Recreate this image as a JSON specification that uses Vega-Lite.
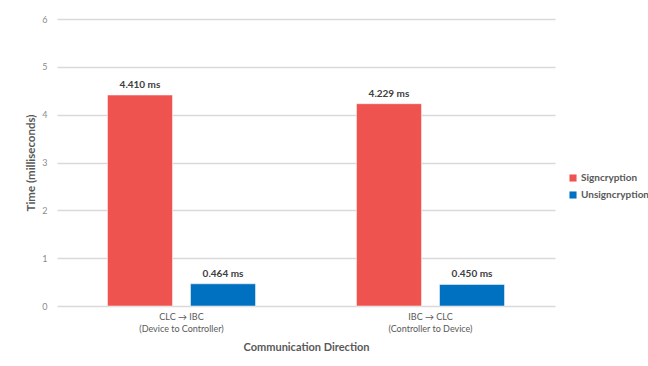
{
  "$schema": "https://vega.github.io/schema/vega-lite/v6.json",
  "width": 498,
  "height": 287,
  "autosize": {"type": "none"},
  "padding": {"left": 57, "top": 19, "right": 93, "bottom": 60},
  "background": "white",
  "config": {
    "font": "Lato",
    "view": {"stroke": null}
  },
  "data": {
    "values": [
      {"direction": "CLC → IBC|(Device to Controller)", "operation": "Signcryption", "time": 4.410, "label": "4.410 ms"},
      {"direction": "CLC → IBC|(Device to Controller)", "operation": "Unsigncryption", "time": 0.464, "label": "0.464 ms"},
      {"direction": "IBC → CLC|(Controller to Device)", "operation": "Signcryption", "time": 4.229, "label": "4.229 ms"},
      {"direction": "IBC → CLC|(Controller to Device)", "operation": "Unsigncryption", "time": 0.450, "label": "0.450 ms"}
    ]
  },
  "encoding": {
    "x": {
      "field": "direction",
      "type": "nominal",
      "sort": null,
      "scale": {"paddingInner": 0, "paddingOuter": 0},
      "axis": {
        "title": "Communication Direction",
        "titleFont": "Lato",
        "titleFontSize": 11,
        "titleFontWeight": "bold",
        "titleColor": "#595959",
        "titlePadding": 8,
        "labelAngle": 0,
        "labelExpr": "split(datum.label, '|')",
        "labelFontSize": 9,
        "labelColor": "#595959",
        "labelPadding": 6,
        "labelLineHeight": 12,
        "ticks": false,
        "domain": false
      }
    },
    "xOffset": {
      "field": "operation",
      "type": "nominal",
      "scale": {"paddingInner": 0.217, "paddingOuter": 0.608}
    },
    "y": {
      "field": "time",
      "type": "quantitative",
      "scale": {"domain": [0, 6]},
      "axis": {
        "title": "Time (milliseconds)",
        "titleFontSize": 11.5,
        "titleFontWeight": "bold",
        "titleColor": "#595959",
        "titlePadding": 5,
        "values": [0, 1, 2, 3, 4, 5, 6],
        "labelFontSize": 9,
        "labelColor": "#8c8c8c",
        "labelPadding": 10,
        "ticks": false,
        "domain": false,
        "gridColor": "#d9d9d9",
        "gridWidth": 1.5
      }
    }
  },
  "layer": [
    {
      "mark": {"type": "bar", "stroke": "white", "strokeWidth": 0.5},
      "encoding": {
        "color": {
          "field": "operation",
          "type": "nominal",
          "scale": {"domain": ["Signcryption", "Unsigncryption"], "range": ["#EE5350", "#0070C0"]},
          "legend": {
            "title": null,
            "orient": "none",
            "legendX": 511,
            "legendY": 154,
            "symbolType": "square",
            "symbolSize": 50,
            "symbolStrokeWidth": 0,
            "labelFontSize": 10,
            "labelFontWeight": "bold",
            "labelColor": "#595959",
            "rowPadding": 7,
            "labelOffset": 3
          }
        }
      }
    },
    {
      "mark": {"type": "text", "dy": -10, "fontSize": 10, "fontWeight": "bold", "color": "#404040"},
      "encoding": {"text": {"field": "label"}}
    }
  ]
}
